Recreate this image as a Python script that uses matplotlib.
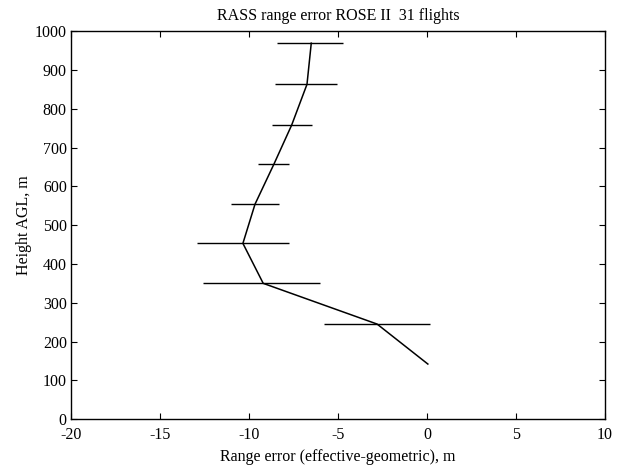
import matplotlib
matplotlib.use('Agg')
import matplotlib.pyplot as plt
import numpy as np

plt.rcParams['font.family'] = ['Liberation Serif', 'DejaVu Serif']
plt.rcParams['axes.unicode_minus'] = False

# profile of mean range error by height
height = [969, 863, 758, 657, 554, 453, 350, 245, 142]
range_err = [-6.5, -6.74, -7.6, -8.6, -9.66, -10.34, -9.2, -2.8, 0.05]
# horizontal bar ends (left, right)
bar_left = [-8.4, -8.55, -8.7, -9.5, -11.0, -12.9, -12.6, -5.8, 0.05]
bar_right = [-4.7, -5.05, -6.45, -7.75, -8.3, -7.75, -6.0, 0.15, 0.05]

fig = plt.figure(figsize=(6.17, 4.72), dpi=100)
ax = fig.add_axes([0.115, 0.112, 0.8655, 0.822])

ax.plot(range_err, height, color='black', lw=1.1)
ax.hlines(height[:-1], bar_left[:-1], bar_right[:-1], color='black', lw=1.0)

ax.set_xlim(-20, 10)
ax.set_ylim(0, 1000)
ax.set_xticks(np.arange(-20, 11, 5))
ax.set_yticks(np.arange(0, 1001, 100))
ax.tick_params(direction='in', top=True, right=True, length=4, labelsize=11.5)
ax.tick_params(axis='x', pad=6)
ax.tick_params(axis='y', pad=3)
for s in ax.spines.values():
    s.set_linewidth(1.0)

ax.set_title('RASS range error ROSE II  31 flights', fontsize=11.5, pad=8)
ax.set_ylabel('Height AGL, m', fontsize=11.5, labelpad=2)
ax.set_xlabel('Range error (effective-geometric), m', fontsize=11.5, labelpad=4)

fig.savefig('out.png', dpi=100)
